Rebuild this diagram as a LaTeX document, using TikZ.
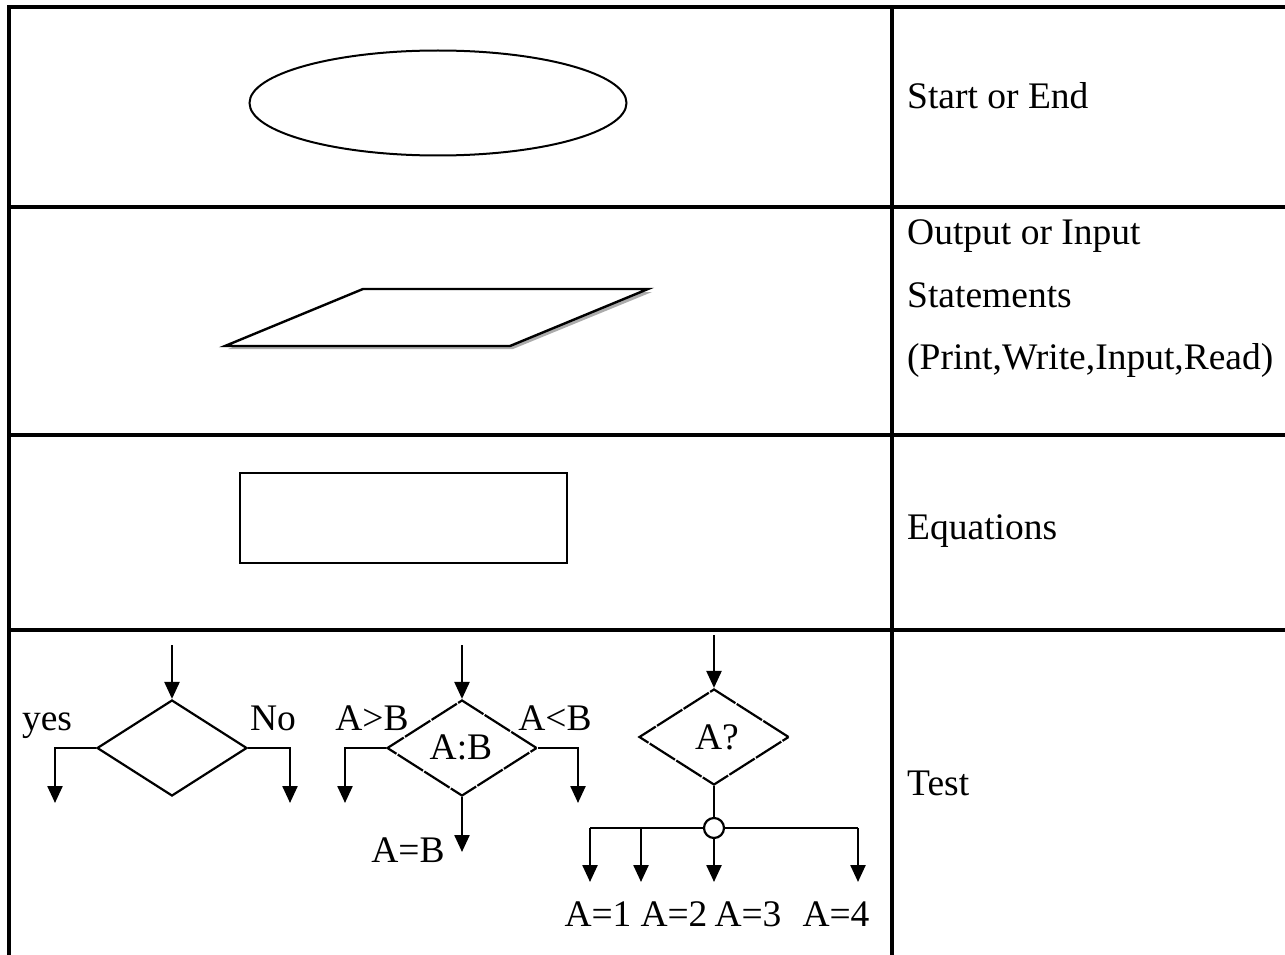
\documentclass[tikz,border=0pt]{standalone}
\usepackage{fontspec}
\setmainfont{Liberation Serif}
\usetikzlibrary{shapes.geometric,arrows.meta}
\begin{document}
\begin{tikzpicture}[x=1pt,y=-1pt,
  grid/.style={line width=3.6pt},
  flow/.style={line width=2.4pt, -{Triangle[length=17pt,width=15pt]}},
  plain/.style={line width=2.4pt},
  lbl/.style={font=\fontsize{37.5}{44}\selectfont, inner sep=0pt, anchor=base},
  rlbl/.style={font=\fontsize{37.5}{44}\selectfont, inner sep=0pt, anchor=base west},
  dia/.style={shape=diamond, draw, line width=2.2pt, minimum width=150pt, minimum height=96pt, inner sep=0pt, aspect=1.5},
  brk/.style={dash pattern=on 30pt off 1.5pt},
]
\useasboundingbox (0,0) rectangle (1285,955);
% table
\draw[grid, line join=miter] (9,955) -- (9,7) -- (1285,7);
\draw[grid] (892,7) -- (892,955);
\draw[grid] (9,207) -- (1285,207);
\draw[grid] (9,435) -- (1285,435);
\draw[grid] (9,630) -- (1285,630);
% right column
\node[rlbl] (t1) at (907,109) {Start or End};
\node[rlbl] (t2) at (907,244) {Output or Input};
\node[rlbl] (t3) at (907,307) {Statements};
\node[rlbl] (t4) at (907,369) {(Print,Write,Input,Read)};
\node[rlbl] (t5) at (907,539) {Equations};
\node[rlbl] (t6) at (907,795) {Test};
% start/end
\node[draw, ellipse, line width=2pt, minimum width=377pt, minimum height=105pt, inner sep=0pt] (term) at (438,103) {};
% parallelogram with shadow
\coordinate (p1) at (363,289);
\coordinate (p2) at (648,289);
\coordinate (p3) at (510,346);
\coordinate (p4) at (225,346);
\fill[gray!65] ([xshift=3pt,yshift=-3pt]p1) -- ([xshift=4pt,yshift=-3pt]p2) -- ([xshift=3pt,yshift=-3pt]p3) -- ([xshift=3pt,yshift=-3pt]p4) -- cycle;
\draw[line width=2.4pt, fill=white, line join=miter] (p1) -- (p2) -- (p3) -- (p4) -- cycle;
% process rectangle
\node[draw, line width=2.6pt, minimum width=327pt, minimum height=90pt, inner sep=0pt] (proc) at (403.5,518) {};
% diamond 1
\node[dia] (d1) at (172,748) {};
\coordinate (d1in) at (172,645);
\coordinate (d1l) at (55,803);
\coordinate (d1r) at (290,803);
\draw[flow] (d1in) -- (d1.north);
\draw[flow] (d1.west) -| (d1l);
\draw[flow] (d1.east) -| (d1r);
\node[lbl] (yes) at (47,730) {yes};
\node[lbl] (no) at (273,730) {No};
% diamond 2
\node[dia, brk] (d2) at (462,748) {};
\node[lbl] (ab) at (461,759) {A:B};
\coordinate (d2in) at (462,645);
\coordinate (d2l) at (345,803);
\coordinate (d2r) at (578,803);
\coordinate (d2b) at (462,852);
\draw[flow] (d2in) -- (d2.north);
\draw[flow] (d2.west) -| (d2l);
\draw[flow] (d2.east) -| (d2r);
\draw[flow] (d2.south) -- (d2b);
\node[lbl] (gt) at (372,730) {A>B};
\node[lbl] (lt) at (555,730) {A<B};
\node[lbl] (eq) at (408,862) {A=B};
% diamond 3
\node[dia, brk] (d3) at (714,737) {};
\node[lbl] (aq) at (717,749) {A?};
\coordinate (d3in) at (714,635);
\draw[flow] (d3in) -- (d3.north);
\coordinate (b1) at (590,828);
\coordinate (b2) at (641,828);
\coordinate (b4) at (858,828);
\coordinate (e1) at (590,882);
\coordinate (e2) at (641,882);
\coordinate (e3) at (714,882);
\coordinate (e4) at (858,882);
\node[circle, draw, line width=2.2pt, fill=white, minimum size=20pt, inner sep=0pt] (j) at (714,828) {};
\draw[plain] (d3.south) -- (j.north);
\draw[plain] (b1) -- (j.west);
\draw[plain] (j.east) -- (b4);
\draw[flow] (b1) -- (e1);
\draw[flow] (b2) -- (e2);
\draw[flow] (j.south) -- (e3);
\draw[flow] (b4) -- (e4);
\node[lbl] (a1) at (598,926) {A=1};
\node[lbl] (a2) at (674,926) {A=2};
\node[lbl] (a3) at (748,926) {A=3};
\node[lbl] (a4) at (836,926) {A=4};
\end{tikzpicture}
\end{document}
